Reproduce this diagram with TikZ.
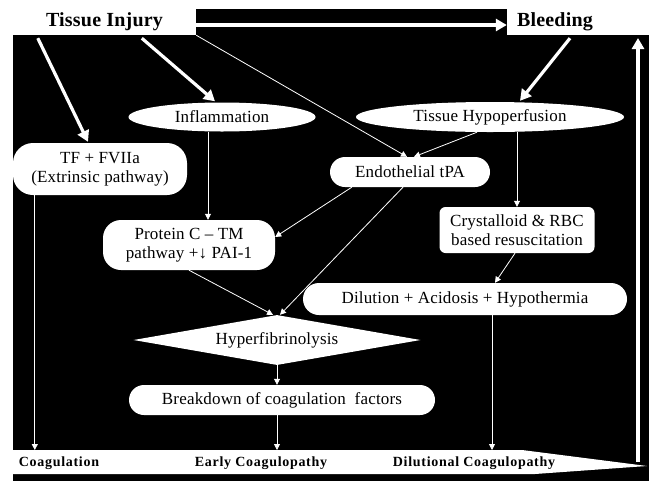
\documentclass[tikz,border=0pt]{standalone}
\usepackage{fontspec}
\setmainfont{Liberation Serif}
\newfontfamily\rf{Liberation Serif}[LetterSpace=1]
\newfontfamily\rfw{Liberation Serif}[LetterSpace=5]
\usetikzlibrary{shapes.geometric,arrows.meta,calc}
\begin{document}
\begin{tikzpicture}[x=1pt,y=-1pt,
  lbl/.style={font=\rf\fontsize{17}{19}\selectfont, text=black, align=center, inner sep=0pt},
  wfill/.style={fill=white, draw=none},
  ell/.style={lbl, wfill, ellipse},
  rbox/.style={lbl, wfill, rectangle},
  bigarrow/.style={draw=white, line width=3.2pt, -{Triangle[width=12pt,length=11pt]}},
  thinarrow/.style={draw=white, line width=0.8pt, -{Triangle[width=6pt,length=6pt]}},
  bandlbl/.style={font=\rfw\bfseries\fontsize{14}{15}\selectfont, text=black, inner sep=0pt},
  toplbl/.style={font=\rf\bfseries\fontsize{20}{21}\selectfont}
]
\useasboundingbox (0,0) rectangle (654,483);
\fill[white] (0,0) rectangle (654,483);
\fill[black] (13,9) rectangle (649,481);

% top boxes
\node[rbox, toplbl, minimum width=183pt, minimum height=26pt] (ti) at (104.5,22) {Tissue Injury};
\node[rbox, toplbl, minimum width=142pt, minimum height=26pt, text width=122pt, align=left, inner xsep=10pt] (bl) at (578,22) {Bleeding};

% main nodes
\node[ell, minimum width=187pt, minimum height=29pt] (infl) at (222,117) {Inflammation};
\node[ell, minimum width=268pt, minimum height=30pt] (hypo) at (490,117) {Tissue Hypoperfusion};
\node[rbox, rounded corners=20pt, minimum width=174pt, minimum height=52pt] (tf) at (100,169) {TF + FVIIa\\(Extrinsic pathway)};
\node[rbox, rounded corners=15pt, minimum width=160pt, minimum height=30pt] (endo) at (410,172) {Endothelial tPA};
\node[rbox, rounded corners=18pt, minimum width=172pt, minimum height=50pt] (pc) at (189,245) {Protein C – TM\\pathway +↓ PAI-1};
\node[rbox, rounded corners=6pt, minimum width=155pt, minimum height=46pt] (crys) at (517,230) {Crystalloid \& RBC\\based resuscitation};
\node[rbox, rounded corners=16pt, minimum width=324pt, minimum height=32pt] (dil) at (465,299) {Dilution + Acidosis + Hypothermia};
\node[lbl, wfill, diamond, aspect=6, minimum width=287pt, minimum height=50pt] (hf) at (277,340) {Hyperfibrinolysis};
\node[rbox, rounded corners=15pt, minimum width=306pt, minimum height=30pt] (bd) at (282,400) {Breakdown of coagulation\ \ factors};

% bottom band
\fill[white] (13,450) -- (522,450) -- (647,466) -- (535,474) -- (13,474) -- cycle;
\coordinate (bandtop) at (0,450);
\node[bandlbl] (lc) at (59,463) {Coagulation};
\node[bandlbl] (le) at (261,463) {Early Coagulopathy};
\node[bandlbl] (ld) at (474,463) {Dilutional Coagulopathy};

% right arrow
\coordinate (rb) at (638,462);
\coordinate (rt) at (638,38);

% thick connectors
\draw[bigarrow] ([yshift=-3pt]ti.east) -- ([yshift=-3pt]bl.west);
\draw[bigarrow] ($(ti.south west)+(25,3)$) -- ($(tf.north)+(-12,-1)$);
\draw[bigarrow] ($(ti.south west)+(129,3)$) -- ($(infl.north)+(-7,-1)$);
\draw[bigarrow] ($(bl.south)+(-8,3)$) -- ($(hypo.north)+(30,-1)$);
\draw[bigarrow] (rb) -- (rt);

% thin connectors
\coordinate (tfl) at ($(tf.south west)+(22,0)$);
\coordinate (dl) at ($(dil.south)+(27,0)$);
\draw[thinarrow] (ti.south east) -- ($(endo.north)+(-3,0)$);
\draw[thinarrow] ($(hypo.south)+(-13,0)$) -- ($(endo.north)+(4,0)$);
\draw[thinarrow] ($(infl.south)+(-14,0)$) -- ($(pc.north)+(19,0)$);
\draw[thinarrow] (crys.north |- hypo.south) -- (crys.north);
\draw[thinarrow] ($(crys.south)+(-2,0)$) -- ($(dil.north)+(30,0)$);
\draw[thinarrow] ($(endo.south west)+(22,0)$) -- ($(pc.east)+(0,-8)$);
\draw[thinarrow] ($(endo.south)+(-7,0)$) -- ($(hf.north)+(3,0)$);
\draw[thinarrow] (pc.south) -- ($(hf.north)+(-4,0)$);
\draw[thinarrow] (hf.south) -- (hf.south |- bd.north);
\draw[thinarrow] (hf.south |- bd.south) -- (hf.south |- bandtop);
\draw[thinarrow] (tfl) -- (tfl |- bandtop);
\draw[thinarrow] (dl) -- (dl |- bandtop);
\end{tikzpicture}
\end{document}
